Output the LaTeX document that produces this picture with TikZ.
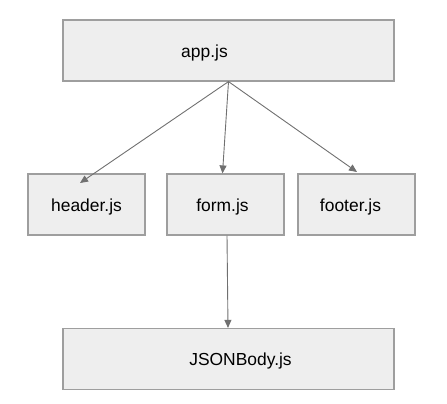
\documentclass[tikz,border=0pt]{standalone}
\usepackage{fontspec}
\setmainfont{Liberation Sans}
\usetikzlibrary{arrows.meta, positioning}

\definecolor{boxfill}{HTML}{EEEEEE}
\definecolor{boxline}{HTML}{9E9E9E}
\definecolor{arrline}{HTML}{707070}

\begin{document}
\begin{tikzpicture}[
  x=1bp, y=-1bp,
  filebox/.style={draw=boxline, fill=boxfill, line width=1.2bp, inner sep=0pt},
  wide/.style={filebox, minimum width=331bp, minimum height=61bp},
  small/.style={filebox, minimum width=117bp, minimum height=61bp},
  arr/.style={draw=arrline, line width=0.9bp, -{Triangle[length=8bp, width=7bp]}},
  every label/.style={font=\fontsize{17.5}{21}\selectfont, inner sep=0pt},
]
\useasboundingbox (0,0) rectangle (447,403);

%% ============ FILE BOXES ============
\node[wide, label={[xshift=-24bp, yshift=-2bp]center:app.js}] (app) at (228.5,50.5) {};

\node[small, label={[yshift=-2bp]center:header.js}] (header) at (86.5,204.5) {};
\node[small, label={[xshift=-3bp, yshift=-2bp]center:form.js}] (form) at (225.5,204.5) {};
\node[small, label={[xshift=-6bp, yshift=-2bp]center:footer.js}] (footer) at (356.5,204.5) {};

\node[wide, label={[xshift=12bp, yshift=-2bp]center:JSONBody.js}] (json) at (228.5,359) {};

%% ---- arrow ends ----
\coordinate (hdrtip) at (80,183);
\coordinate (ftrtip) at (357,172);

%% ============ ARROWS ============
\draw[arr] (app.south) -- (hdrtip);
\draw[arr] (app.south) -- ([xshift=-3bp]form.north);
\draw[arr] (app.south) -- (ftrtip);
\draw[arr] ([xshift=1.5bp]form.south) -- ([xshift=-0.5bp]json.north);

\end{tikzpicture}
\end{document}
